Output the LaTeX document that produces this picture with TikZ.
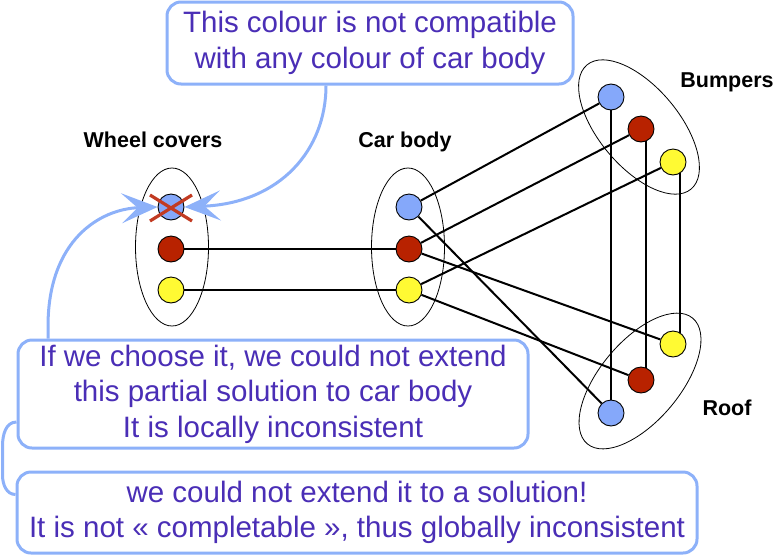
\documentclass[tikz,border=0pt]{standalone}
\usepackage{fontspec}
\setmainfont{Liberation Sans}
\usetikzlibrary{calc,arrows.meta}

\definecolor{notepurple}{RGB}{74,46,182}
\definecolor{calloutblue}{RGB}{141,177,249}
\definecolor{valblue}{RGB}{133,168,250}
\definecolor{valred}{RGB}{184,34,0}
\definecolor{valyellow}{RGB}{255,250,51}
\definecolor{crossred}{RGB}{194,59,34}

\begin{document}
\begin{tikzpicture}[x=1pt,y=-1pt,
  dot/.style={circle, draw=black, line width=0.9pt, minimum size=26pt, inner sep=0pt},
  blueval/.style={dot, fill=valblue},
  redval/.style={dot, fill=valred},
  yellowval/.style={dot, fill=valyellow},
  valueset/.style={draw=black, line width=0.8pt},
  link/.style={draw=black, line width=2pt},
  callout/.style={draw=calloutblue, line width=3pt, rounded corners=14pt, fill=white,
    text=notepurple, align=center, inner sep=0pt,
    font=\fontsize{29.5}{35.5}\selectfont},
  tail/.style={draw=calloutblue, line width=3pt},
  pointer/.style={tail, -{Stealth[length=36pt,width=30pt,inset=16pt]}},
  title/.style={anchor=base, inner sep=0pt, font=\bfseries\fontsize{21.5}{26}\selectfont},
  cross/.style={draw=crossred, line width=3.2pt}]

\useasboundingbox (0,0) rectangle (775,555);

% value sets of the variables
\draw[valueset] (172,247) ellipse [x radius=36.5pt, y radius=79pt];
\draw[valueset] (408,247) ellipse [x radius=36.5pt, y radius=79pt];
\draw[valueset, rotate around={-50:(639,127)}] (639,127) ellipse [x radius=81pt, y radius=40pt];
\draw[valueset, rotate around={50:(640,381)}] (640,381) ellipse [x radius=82pt, y radius=40pt];

% variable names
\node[title] (lblWheel) at (153,147) {Wheel covers};
\node[title] (lblBody)  at (405,147) {Car body};
\node[title] (lblBump)  at (727,87)  {Bumpers};
\node[title] (lblRoof)  at (727,415) {Roof};

% values
\node[blueval]   (wB) at (171,207) {};
\node[redval]    (wR) at (171,249) {};
\node[yellowval] (wY) at (171,290) {};
\node[blueval]   (cB) at (409,207) {};
\node[redval]    (cR) at (409,249) {};
\node[yellowval] (cY) at (409,290) {};
\node[blueval]   (bB) at (611,97)  {};
\node[redval]    (bR) at (641,129) {};
\node[yellowval] (bY) at (673,162) {};
\node[blueval]   (rB) at (611,413) {};
\node[redval]    (rR) at (641,380) {};
\node[yellowval] (rY) at (673,344) {};

% compatible pairs
\draw[link] (wR) -- (cR);
\draw[link] (wY) -- (cY);
\draw[link] (cB) -- (bB);
\draw[link] (cR) -- (bR);
\draw[link] (cY) -- (bY);
\draw[link] (cB) -- (rB);
\draw[link] (cR) -- (rY);
\draw[link] (cY) -- (rR);
\draw[link] (bB) -- (rB);
\draw[link] (bR.-67) -- (rR.67);
\draw[link] (bY.-57) -- (rY.57);

% removed value
\draw[cross] ($(wB)+(-21,-12)$) -- ($(wB)+(21,14)$);
\draw[cross] ($(wB)+(21,-12)$) -- ($(wB)+(-21,14)$);

% remarks
\node[callout, minimum width=406pt, minimum height=82pt] (topbox) at (370,43)
  {This colour is not compatible\\with any colour of car body};
\node[callout, minimum width=510pt, minimum height=108pt] (midbox) at (273,394)
  {If we choose it, we could not extend\\this partial solution to car body\\It is locally inconsistent};
\node[callout, minimum width=680pt, minimum height=81pt] (botbox) at (357,512.5)
  {we could not extend it to a solution!\\It is not « completable », thus globally inconsistent};

% remark pointers
\draw[pointer] ([xshift=-44pt]topbox.south) .. controls (326,150) and (280,203) .. (wB.east);
\draw[pointer] ([xshift=-225pt]midbox.north) -- ++(0,-12) .. controls (48,240) and (100,209) .. (wB.west);
\draw[tail] ($(midbox.west)+(0,28)$) to[out=180,in=90] ++(-14,24) -- ++(0,29)
  to[out=-90,in=180] ($(botbox.west)+(0,-18)$);
\end{tikzpicture}
\end{document}
